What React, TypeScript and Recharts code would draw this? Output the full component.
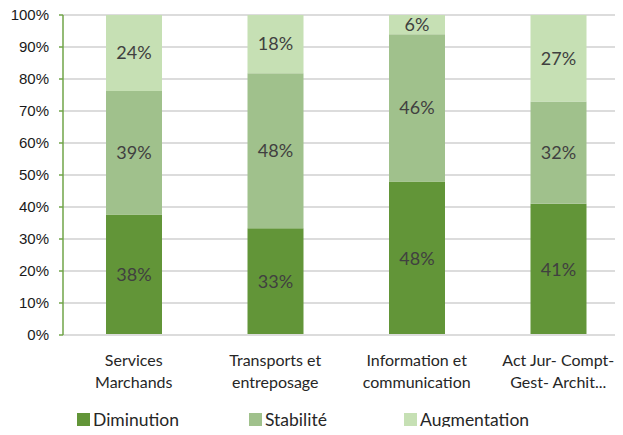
import { BarChart, Bar, XAxis, YAxis, CartesianGrid, Legend, LabelList } from "recharts";

const categories = [
  "Services\nMarchands",
  "Transports et\nentreposage",
  "Information et\ncommunication",
  "Act Jur- Compt-\nGest- Archit...",
];
const diminution = [38, 33, 48, 41];
const stabilite = [39, 48, 46, 32];
const augmentation = [24, 18, 6, 27];
const yTicks = [0, 0.1, 0.2, 0.3, 0.4, 0.5, 0.6, 0.7, 0.8, 0.9, 1];

const SERIES = [
  { key: "Diminution", values: diminution, color: "#629538" },
  { key: "Stabilité", values: stabilite, color: "#a0c18c" },
  { key: "Augmentation", values: augmentation, color: "#c6e0b4" },
];

const data = categories.map((name, i) => {
  const row: Record<string, string | number> = { name };
  SERIES.forEach((s) => (row[s.key] = s.values[i]));
  return row;
});

const CategoryTick = (props: any) => {
  const { x, y, payload } = props;
  const lines = String(payload.value).split("\n");
  return (
    <text x={x} y={y} textAnchor="middle" fill="#262626" fontFamily="Lato" fontSize={16}>
      {lines.map((l, i) => (
        <tspan key={i} x={x} dy={i === 0 ? 23 : 22}>
          {l}
        </tspan>
      ))}
    </text>
  );
};

const LEGEND_WIDTHS = [172, 155, 160];

const renderLegend = () => (
  <div
    style={{
      display: "flex",
      paddingLeft: 77,
      paddingTop: 9,
      height: 21,
      lineHeight: "21px",
      fontFamily: "Lato",
      fontSize: 17.5,
      color: "#262626",
    }}
  >
    {SERIES.map((s, i) => (
      <div key={s.key} style={{ width: LEGEND_WIDTHS[i], display: "flex", alignItems: "center" }}>
        <span style={{ width: 13, height: 13, background: s.color, display: "inline-block", marginRight: 3 }} />
        <span>{s.key}</span>
      </div>
    ))}
  </div>
);

export default function App() {
  return (
    <div style={{ margin: -8, width: 623, height: 435, position: "relative", overflow: "hidden", background: "#fff" }}>
      <div style={{ position: "absolute", left: 0, top: 0, width: 4, height: 435, background: "#c6e0b4" }} />
      <BarChart
        width={629}
        height={435}
        data={data}
        stackOffset="expand"
        barSize={56}
        margin={{ top: 15, right: 0, bottom: 0, left: 0 }}
      >
        <CartesianGrid vertical={false} stroke="#dcdcdc" strokeWidth={2} />
        <XAxis
          dataKey="name"
          axisLine={{ stroke: "#dcdcdc", strokeWidth: 2 }}
          tickLine={false}
          height={65}
          tick={<CategoryTick />}
          interval={0}
        />
        <YAxis
          width={63}
          ticks={yTicks}
          domain={[0, 1]}
          tickFormatter={(v: number) => Math.round(v * 100) + "%"}
          axisLine={{ stroke: "#70a548", strokeWidth: 1.5 }}
          tickLine={{ stroke: "#70a548", strokeWidth: 1.5 }}
          tickSize={4}
          tickMargin={10}
          tick={{ fill: "#1a1a1a", fontFamily: "Liberation Sans", fontSize: 15 }}
        />
        <Legend verticalAlign="bottom" height={35} content={renderLegend} />
        {SERIES.map((s) => (
          <Bar key={s.key} dataKey={s.key} stackId="a" fill={s.color} isAnimationActive={false}>
            <LabelList
              dataKey={s.key}
              position="center"
              formatter={(v: any) => v + "%"}
              fill="#404040"
              fontFamily="Lato"
              fontSize={18}
            />
          </Bar>
        ))}
      </BarChart>
    </div>
  );
}
